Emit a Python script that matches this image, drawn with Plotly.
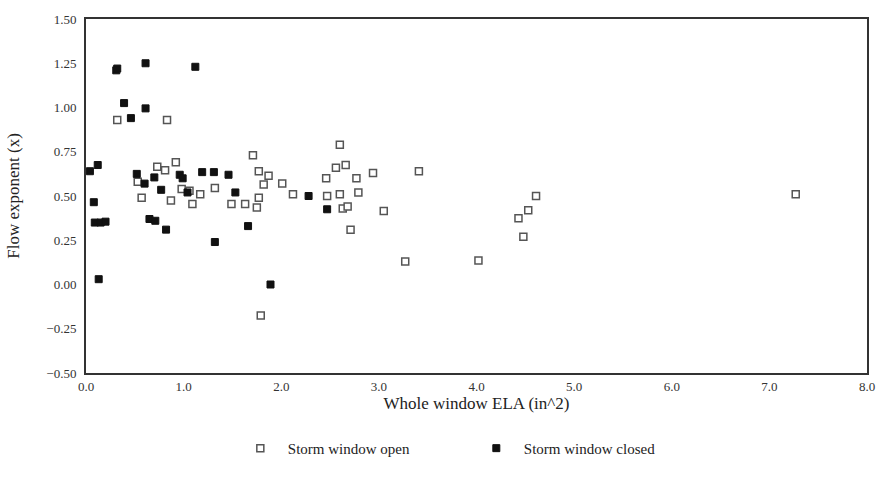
import plotly.graph_objects as go

# Whole-window ELA (in^2) and flow exponent for each test, storm window open
open_ela = [0.32, 0.83, 0.53, 0.73, 0.81, 0.92, 0.57, 0.87, 0.98, 1.06, 1.09,
            1.71, 1.77, 1.87, 1.82, 2.01, 1.17, 1.32, 1.49, 1.63, 1.77, 1.75,
            1.79, 2.60, 2.56, 2.66, 2.46, 2.77, 2.94, 2.12, 2.47, 2.60, 2.79,
            2.63, 2.68, 3.05, 2.71, 3.41, 3.27, 4.02, 4.61, 4.53, 4.43, 4.48,
            7.27]
open_exp = [0.93, 0.93, 0.58, 0.665, 0.645, 0.69, 0.49, 0.475, 0.54, 0.53, 0.455,
            0.73, 0.64, 0.615, 0.565, 0.57, 0.51, 0.545, 0.455, 0.455, 0.49, 0.435,
            -0.175, 0.79, 0.66, 0.675, 0.60, 0.60, 0.63, 0.51, 0.50, 0.51, 0.52,
            0.43, 0.44, 0.415, 0.31, 0.64, 0.13, 0.135, 0.50, 0.42, 0.375, 0.27,
            0.51]

# Same measurements with the storm window closed
closed_ela = [0.31, 0.32, 0.61, 1.12, 0.39, 0.61, 0.46, 0.04, 0.12, 0.08, 0.09,
              0.15, 0.20, 0.13, 0.52, 0.60, 0.70, 0.96, 0.99, 0.77, 1.04, 0.65,
              0.71, 0.82, 1.19, 1.31, 1.46, 1.53, 1.66, 1.32, 1.89, 2.28, 2.47]
closed_exp = [1.21, 1.22, 1.25, 1.23, 1.025, 0.995, 0.94, 0.64, 0.675, 0.465, 0.35,
              0.35, 0.355, 0.03, 0.625, 0.57, 0.605, 0.62, 0.60, 0.535, 0.52, 0.37,
              0.36, 0.31, 0.635, 0.635, 0.62, 0.52, 0.33, 0.24, 0.00, 0.50, 0.425]

x_ticks = [0, 1, 2, 3, 4, 5, 6, 7, 8]
y_ticks = [-0.5, -0.25, 0, 0.25, 0.5, 0.75, 1.0, 1.25, 1.5]

FONT = "Liberation Serif"

fig = go.Figure()
fig.add_trace(go.Scatter(
    x=open_ela, y=open_exp, mode="markers", name="Storm window open",
    marker=dict(symbol="square", size=7, color="white",
                line=dict(color="#555555", width=1.5)),
))
fig.add_trace(go.Scatter(
    x=closed_ela, y=closed_exp, mode="markers", name="Storm window closed",
    marker=dict(symbol="square", size=7, color="#111111",
                line=dict(color="#111111", width=1)),
))

axis_common = dict(
    showgrid=False, zeroline=False, showline=True, mirror=True,
    linecolor="#333333", linewidth=2, ticks="",
    tickfont=dict(family=FONT, size=13, color="#333333"),
)

fig.update_xaxes(
    range=[0, 8], tickvals=x_ticks, tickformat=".1f",
    title=dict(text="Whole window ELA (in^2)", standoff=0,
               font=dict(family=FONT, size=17, color="#222222")),
    **axis_common,
)
fig.update_yaxes(
    range=[-0.5, 1.5], tickvals=y_ticks, tickformat=".2f",
    ticklabelstandoff=5,
    title=dict(text="Flow exponent (x)", standoff=22,
               font=dict(family=FONT, size=17, color="#222222")),
    **axis_common,
)

fig.update_layout(
    width=887, height=491,
    margin=dict(l=86, r=14, t=16, b=118),
    paper_bgcolor="white", plot_bgcolor="white",
    font=dict(family=FONT, color="#222222"),
    legend=dict(orientation="h", x=0.188, xanchor="left", y=-0.213,
                yanchor="middle", entrywidth=176, itemwidth=45,
                font=dict(family=FONT, size=15, color="#222222")),
)

fig.write_html("out.html")
